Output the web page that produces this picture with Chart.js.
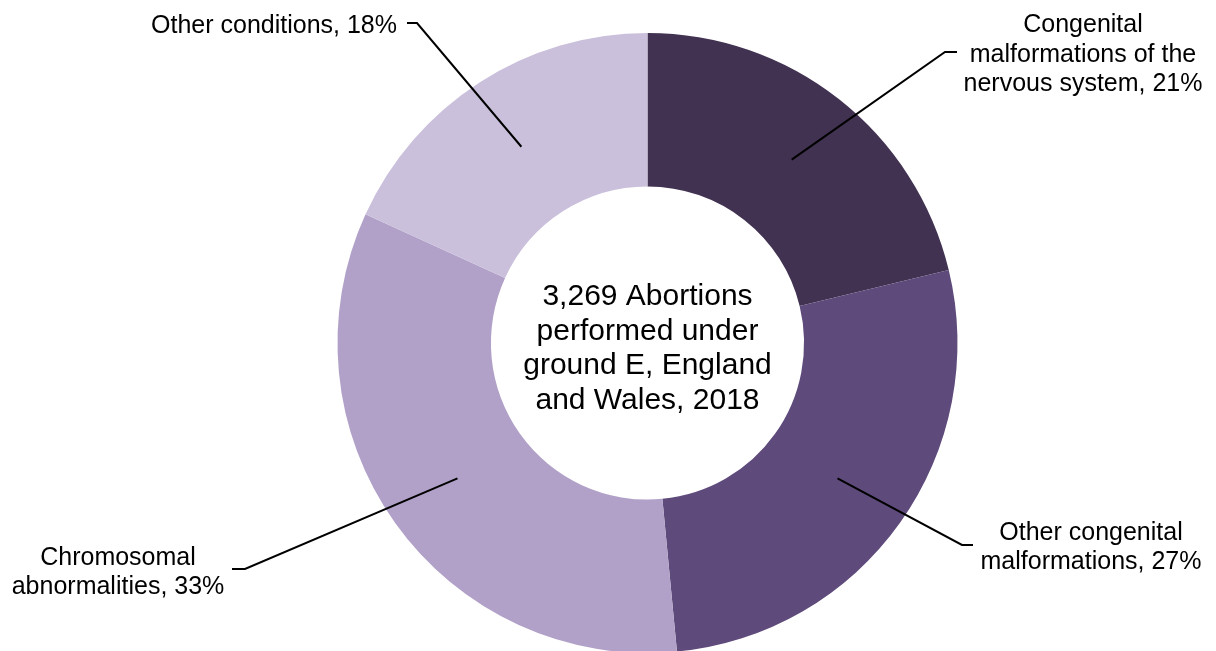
<!DOCTYPE html>
<html>
<head>
<meta charset="utf-8">
<script src="https://cdn.jsdelivr.net/npm/chart.js@4"></script>
<style>
  html, body { margin: 0; padding: 0; background: #ffffff; overflow: hidden; }
  #wrap { position: relative; width: 1216px; height: 680px; }
</style>
</head>
<body>
<div id="wrap"><canvas id="c"></canvas></div>
<script>
// ---- Data ----
const categories = [
  'Congenital malformations of the nervous system',
  'Other congenital malformations',
  'Chromosomal abnormalities',
  'Other conditions'
];
const values = [21, 27, 33, 18];
const colors = ['#413251', '#5e4a7b', '#b1a1c8', '#cac0dc'];
// label text broken into lines as in the original
const labelLines = [
  ['Congenital', 'malformations of the', 'nervous system, 21%'],
  ['Other congenital', 'malformations, 27%'],
  ['Chromosomal', 'abnormalities, 33%'],
  ['Other conditions, 18%']
];
const centerLines = ['3,269 Abortions', 'performed under', 'ground E, England', 'and Wales, 2018'];

// ---- Label layout (annotation placement only) ----
const labelLayout = [
  { x: 1083, y: 32, lh: 29.5, align: 'center', elbow: [945, 52], end: [957, 52] },
  { x: 1091, y: 540, lh: 29, align: 'center', elbow: [962, 545], end: [973, 545] },
  { x: 118, y: 565, lh: 29, align: 'center', elbow: [245, 569], end: [232, 569] },
  { x: 397, y: 33, lh: 29, align: 'right', elbow: [417, 23], end: [407, 23] }
];

const labelPlugin = {
  id: 'labelPlugin',
  afterDraw(chart) {
    const ctx = chart.ctx;
    const meta = chart.getDatasetMeta(0);
    ctx.save();
    // leader lines
    ctx.strokeStyle = '#000000';
    ctx.lineWidth = 2;
    meta.data.forEach((arc, i) => {
      const p = arc.getCenterPoint();
      const L = labelLayout[i];
      ctx.beginPath();
      ctx.moveTo(p.x, p.y);
      ctx.lineTo(L.elbow[0], L.elbow[1]);
      ctx.lineTo(L.end[0], L.end[1]);
      ctx.stroke();
    });
    // labels
    ctx.fillStyle = '#000000';
    ctx.font = '25px "Liberation Sans", Arial, sans-serif';
    ctx.textBaseline = 'alphabetic';
    labelLines.forEach((lines, i) => {
      const L = labelLayout[i];
      ctx.textAlign = L.align;
      lines.forEach((t, j) => ctx.fillText(t, L.x, L.y + j * L.lh));
    });
    // centre text
    const arc0 = meta.data[0];
    const cx = arc0.x, cy = arc0.y;
    ctx.font = '30px "Liberation Sans", Arial, sans-serif';
    ctx.textAlign = 'center';
    const lh = 34.7;
    const firstBase = cy - 38;
    centerLines.forEach((t, j) => ctx.fillText(t, cx, firstBase + j * lh));
    ctx.restore();
  }
};

new Chart(document.getElementById('c'), {
  type: 'doughnut',
  data: {
    labels: categories,
    datasets: [{
      data: values,
      backgroundColor: colors,
      borderWidth: 0,
      hoverOffset: 0
    }]
  },
  options: {
    responsive: true,
    maintainAspectRatio: false,
    animation: false,
    cutout: '50.5%',
    rotation: 0,
    layout: { padding: { left: 337.5, right: 258.5, top: 33, bottom: 27 } },
    plugins: { legend: { display: false }, tooltip: { enabled: false } }
  },
  plugins: [labelPlugin]
});
</script>
</body>
</html>
